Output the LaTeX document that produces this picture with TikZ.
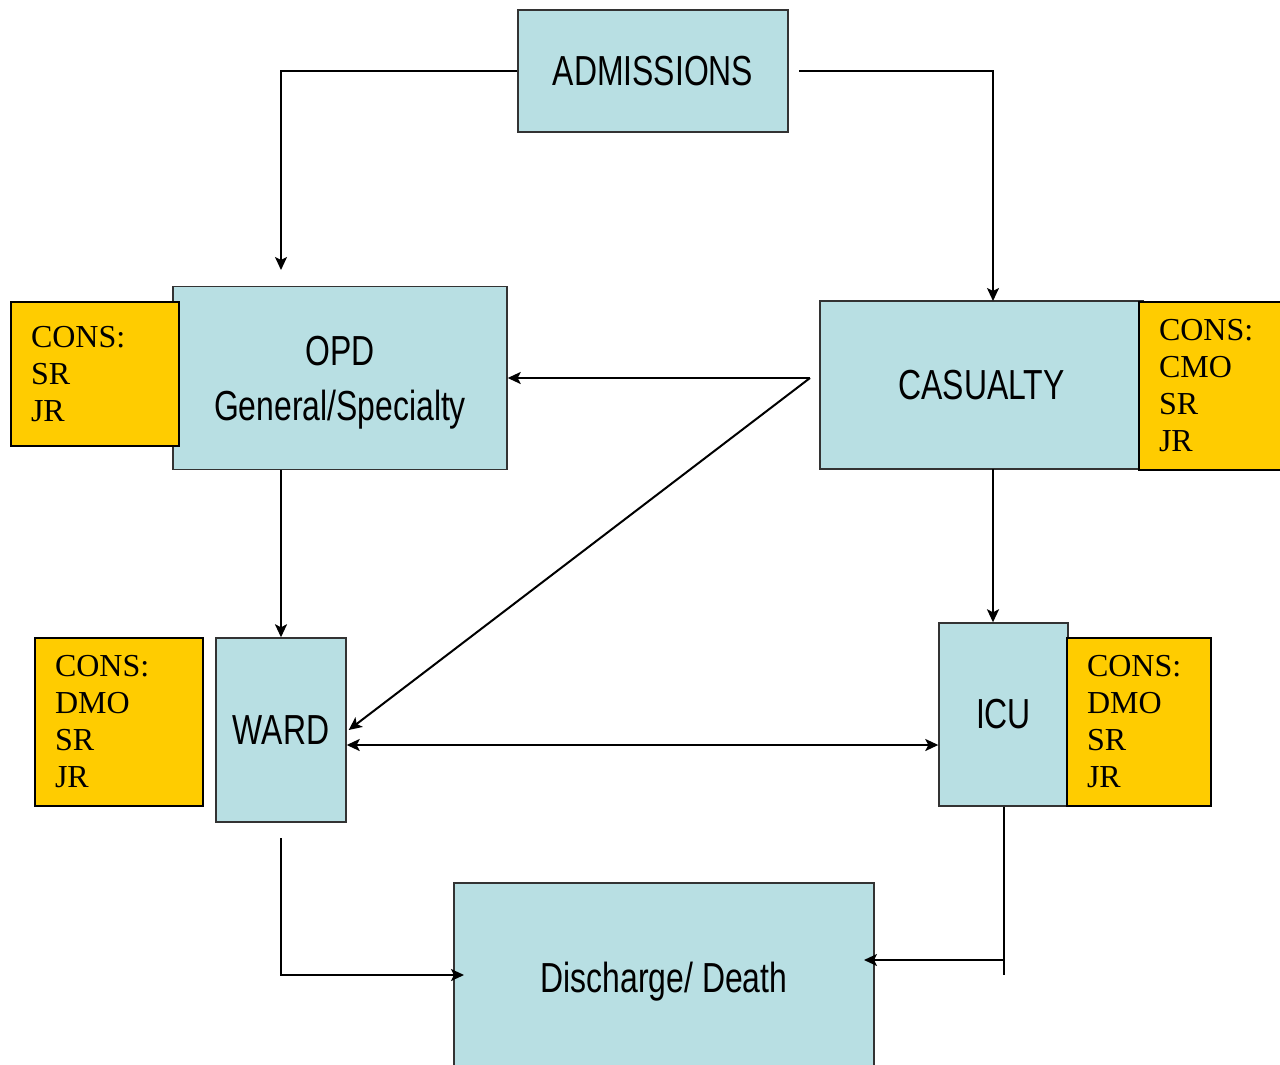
\documentclass[tikz,border=0pt]{standalone}
\usepackage{fontspec}
\setmainfont{Liberation Serif}
\newfontfamily\narrowsans[FakeStretch=0.76]{Liberation Sans}
\usetikzlibrary{arrows.meta, positioning}
\definecolor{unitblue}{RGB}{184,223,227}
\definecolor{consyellow}{RGB}{255,204,0}
\tikzset{
    unit/.style={draw=black!80, line width=1.4pt, fill=unitblue, align=center, inner sep=0pt,
        font=\narrowsans\fontsize{42}{55}\selectfont},
    unittext/.style={align=center, inner sep=0pt, font=\narrowsans\fontsize{42}{55}\selectfont},
    cons/.style={draw=black, line width=2pt, fill=consyellow, align=left, inner xsep=20pt, inner ysep=0pt,
        font=\fontsize{32}{37}\selectfont},
    flow/.style={line width=2pt, -{Stealth[length=13pt,width=12pt,inset=3pt]}},
    flows/.style={line width=2pt, {Stealth[length=13pt,width=12pt,inset=3pt]}-{Stealth[length=13pt,width=12pt,inset=3pt]}}
}

\begin{document}
\begin{tikzpicture}[x=1pt, y=-1pt]
    \useasboundingbox (0,0) rectangle (1280,1065);
    % units
    \node[unit, minimum width=270pt, minimum height=122pt] (adm) at (653,71) {ADMISSIONS};
    \node[unit, minimum width=334pt, minimum height=183pt] (opd) at (340,378) {};
    \node[unittext] (opdtext) at ([yshift=-5pt]opd.center) {OPD\\General/Specialty};
    \node[unit, minimum width=323pt, minimum height=168pt] (cas) at (981.5,385) {CASUALTY};
    \node[unit, minimum width=130pt, minimum height=184pt] (ward) at (281,730) {WARD};
    \node[unit, minimum width=129pt, minimum height=183pt] (icu) at (1003.5,714.5) {ICU};
    \node[unit, minimum width=420pt, minimum height=197pt] (dis) at (664,981.5) {Discharge/ Death};
    % staff
    \node[cons, text width=128pt, minimum height=144pt] (opdcons) at (95,374) {CONS:\\SR\\JR};
    \node[cons, text width=111pt, minimum height=168pt] (cascons) at (1214.5,386) {CONS:\\CMO\\SR\\JR};
    \node[cons, text width=128pt, minimum height=168pt] (wardcons) at (119,722) {CONS:\\DMO\\SR\\JR};
    \node[cons, text width=104pt, minimum height=168pt] (icucons) at (1139,722) {CONS:\\DMO\\SR\\JR};
    % free ends
    \coordinate (opdin) at (281,270);
    \coordinate (admout) at (799,71);
    \coordinate (casin) at (993,301);
    \coordinate (casfork) at (810,378);
    \coordinate (casout) at (993,469);
    \coordinate (wardout) at (281,838);
    \coordinate (disleft) at (464,975);
    \coordinate (icuturn) at (1004,960);
    \coordinate (icuend) at (1004,975);
    \coordinate (disright) at (864,960);
    % flows
    \draw[flow] (adm.west) -| (opdin);
    \draw[flow] (admout) -| (casin);
    \draw[flow] (casfork) -- (opd.east);
    \draw[flow] (casfork) -- ([xshift=2pt]ward.east);
    \draw[flow] (ward.north |- opd.south) -- (ward.north);
    \draw[flow] (casout) -- (casout |- icu.north);
    \draw[flows] ([yshift=-15pt]ward.east) -- ([yshift=-15pt]ward.east -| icu.west);
    \draw[flow] (wardout) |- (disleft);
    \draw[line width=2pt] (icu.south -| icuend) -- (icuend);
    \draw[flow] (icuturn) -- (disright);
\end{tikzpicture}
\end{document}
